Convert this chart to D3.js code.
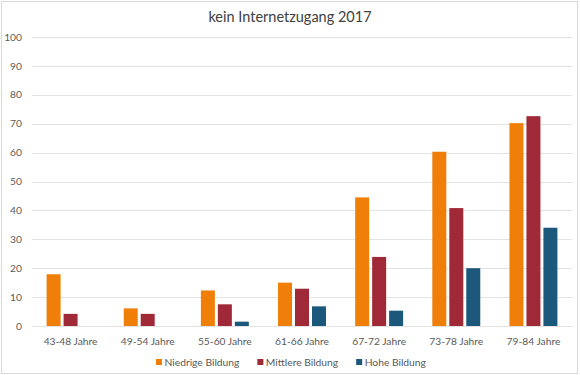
<!DOCTYPE html>
<html lang="de">
<head>
<meta charset="UTF-8">
<title>kein Internetzugang 2017</title>
<script src="https://d3js.org/d3.v7.min.js"></script>
<style>
    body { margin: 0; background: white; }
    text { font-family: Lato, "Open Sans", sans-serif; }
</style>
</head>
<body>
<div id="chart"></div>
<script>
    const categories = ["43-48 Jahre", "49-54 Jahre", "55-60 Jahre", "61-66 Jahre", "67-72 Jahre", "73-78 Jahre", "79-84 Jahre"];
    const seriesNames = ["Niedrige Bildung", "Mittlere Bildung", "Hohe Bildung"];
    const niedrig = [17.9, 6.1, 12.3, 15.0, 44.5, 60.3, 70.2];
    const mittel = [4.2, 4.2, 7.5, 12.9, 23.9, 40.8, 72.6];
    const hoch = [0, 0, 1.5, 6.8, 5.3, 20.0, 34.0];
    const colors = ["#f07f09", "#9f2936", "#1b587c"];
    const yTicks = [0, 10, 20, 30, 40, 50, 60, 70, 80, 90, 100];

    const width = 580, height = 375;
    const margin = {left: 32, right: 8, top: 37, bottom: 49};

    const svg = d3.select("#chart").append("svg")
        .attr("width", width)
        .attr("height", height);

    // outer frame
    svg.append("rect")
        .attr("x", 1.5).attr("y", 1.5)
        .attr("width", width - 4).attr("height", height - 3)
        .attr("fill", "white").attr("stroke", "#d9d9d9");

    // pick a label size so "43-48 Jahre" is about as wide as in the original (Calibri)
    const probe = svg.append("text").attr("font-size", 10).text(categories[0]);
    const labelSize = 10 * 54 / probe.node().getComputedTextLength();
    probe.remove();

    const x = d3.scaleBand()
        .domain(categories)
        .range([margin.left, width - margin.right]);

    const y = d3.scaleLinear()
        .domain([0, 100])
        .range([height - margin.bottom, margin.top]);

    const x1 = d3.scaleBand()
        .domain(seriesNames)
        .range([0, x.bandwidth()])
        .paddingInner(0.176)
        .paddingOuter(0.86);

    // gridlines
    svg.append("g")
        .selectAll("line")
        .data(yTicks)
        .join("line")
        .attr("x1", margin.left).attr("x2", width - margin.right)
        .attr("y1", d => Math.round(y(d)) + 0.5).attr("y2", d => Math.round(y(d)) + 0.5)
        .attr("stroke", "#e3e3e3");

    // y labels
    svg.append("g")
        .selectAll("text")
        .data(yTicks)
        .join("text")
        .attr("x", 22)
        .attr("y", d => y(d))
        .attr("dy", "0.35em")
        .attr("text-anchor", "end")
        .attr("font-size", labelSize)
        .attr("fill", "#595959")
        .text(d => d);

    // bars
    const table = categories.map((c, i) => ({cat: c, values: [niedrig[i], mittel[i], hoch[i]]}));
    svg.append("g")
        .selectAll("g")
        .data(table)
        .join("g")
        .attr("transform", d => `translate(${x(d.cat)},0)`)
        .selectAll("rect")
        .data(d => d.values.map((v, j) => ({name: seriesNames[j], value: v, j})))
        .join("rect")
        .attr("x", d => x1(d.name))
        .attr("width", x1.bandwidth())
        .attr("y", d => y(d.value))
        .attr("height", d => y(0) - y(d.value))
        .attr("fill", d => colors[d.j]);

    // x labels
    svg.append("g")
        .selectAll("text")
        .data(categories)
        .join("text")
        .attr("x", d => x(d) + x.bandwidth() / 2)
        .attr("y", 341)
        .attr("dy", "0.35em")
        .attr("text-anchor", "middle")
        .attr("font-size", labelSize)
        .attr("fill", "#595959")
        .text(d => d);

    // title
    svg.append("text")
        .attr("x", 290)
        .attr("y", 22)
        .attr("text-anchor", "middle")
        .attr("font-size", 14.5)
        .attr("fill", "#404040")
        .text("kein Internetzugang 2017");

    // legend, laid out left to right
    const legend = svg.append("g").attr("transform", "translate(0,362)");
    let lx = 156;
    seriesNames.forEach((name, i) => {
        legend.append("rect")
            .attr("x", lx).attr("y", -3)
            .attr("width", 6).attr("height", 6)
            .attr("fill", colors[i]);
        const t = legend.append("text")
            .attr("x", lx + 8.5)
            .attr("dy", "0.35em")
            .attr("font-size", labelSize)
            .attr("fill", "#595959")
            .text(name);
        lx += 8.5 + t.node().getComputedTextLength() + 18;
    });
</script>
</body>
</html>
